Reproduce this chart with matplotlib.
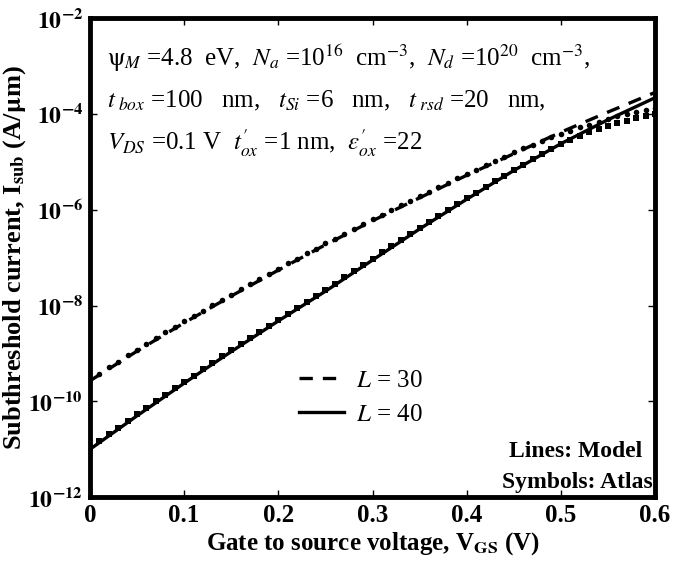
import numpy as np
import matplotlib
matplotlib.use('Agg')
import matplotlib.pyplot as plt
from matplotlib.ticker import FixedLocator, NullLocator

plt.rcParams['font.family'] = ['Liberation Serif', 'DejaVu Serif']
plt.rcParams['mathtext.fontset'] = 'stix'

# model curves (log10 of current, A/um)
v_model = [0.00, 0.05, 0.10, 0.15, 0.20, 0.25, 0.30, 0.35, 0.40, 0.45, 0.50, 0.55, 0.60]
log_model_l30 = [-9.57, -8.95, -8.36, -7.80, -7.26, -6.73, -6.23, -5.75, -5.28, -4.83, -4.38, -3.96, -3.55]
log_model_l40 = [-11.00, -10.30, -9.62, -8.96, -8.32, -7.70, -7.05, -6.40, -5.78, -5.18, -4.62, -4.12, -3.66]

# Atlas simulation points, sweep 0 .. 0.6 V in 0.01 V steps
v_atlas = np.round(np.arange(0, 0.605, 0.01), 2)
log_atlas_l30 = [-9.54, -9.42, -9.29, -9.17, -9.04, -8.92, -8.80, -8.68, -8.56, -8.45,
                 -8.33, -8.22, -8.11, -7.99, -7.88, -7.77, -7.66, -7.55, -7.45, -7.34,
                 -7.23, -7.12, -7.02, -6.91, -6.81, -6.70, -6.60, -6.50, -6.40, -6.30,
                 -6.20, -6.10, -6.01, -5.91, -5.82, -5.72, -5.63, -5.53, -5.44, -5.34,
                 -5.25, -5.16, -5.07, -4.98, -4.89, -4.80, -4.72, -4.64, -4.56, -4.49,
                 -4.42, -4.35, -4.28, -4.22, -4.16, -4.10, -4.05, -4.00, -3.96, -3.92,
                 -3.88]
log_atlas_l40 = [-10.97, -10.83, -10.69, -10.55, -10.41, -10.27, -10.13, -10.00, -9.86, -9.72,
                 -9.59, -9.46, -9.33, -9.20, -9.06, -8.93, -8.80, -8.67, -8.55, -8.42,
                 -8.29, -8.17, -8.04, -7.92, -7.79, -7.67, -7.54, -7.41, -7.28, -7.15,
                 -7.02, -6.89, -6.76, -6.63, -6.50, -6.37, -6.25, -6.13, -6.00, -5.88,
                 -5.76, -5.64, -5.52, -5.40, -5.29, -5.17, -5.06, -4.95, -4.84, -4.73,
                 -4.63, -4.54, -4.46, -4.38, -4.31, -4.25, -4.19, -4.14, -4.09, -4.05,
                 -4.01]

x_ticks = [0, 0.1, 0.2, 0.3, 0.4, 0.5, 0.6]
x_tick_labels = ['0', '0.1', '0.2', '0.3', '0.4', '0.5', '0.6']
y_exponents = [-12, -10, -8, -6, -4, -2]

fig = plt.figure(figsize=(6.81, 5.67), dpi=100)
ax = fig.add_axes([0.132, 0.123, 0.830, 0.845])

ax.plot(v_model, 10.0 ** np.array(log_model_l30), color='black', lw=2.4,
        linestyle=(0, (4, 3)), label=r'$L$ = 30')
ax.plot(v_model, 10.0 ** np.array(log_model_l40), color='black', lw=2.4,
        linestyle='-', label=r'$L$ = 40')
ax.plot(v_atlas, 10.0 ** np.array(log_atlas_l30), 'o', color='black', ms=4.0, mew=0)
ax.plot(v_atlas, 10.0 ** np.array(log_atlas_l40), 's', color='black', ms=3.8, mew=0)

ax.set_yscale('log')
ax.set_xlim(0, 0.6)
ax.set_ylim(1e-12, 1e-2)
ax.xaxis.set_major_locator(FixedLocator(x_ticks))
ax.set_xticklabels(x_tick_labels, fontsize=18, fontweight='bold')
ax.yaxis.set_major_locator(FixedLocator([10.0 ** e for e in y_exponents]))
ax.yaxis.set_minor_locator(NullLocator())
ax.set_yticklabels([r'$\mathbf{10^{%d}}$' % e for e in y_exponents], fontsize=17)
ax.tick_params(direction='in', length=5, width=1, top=True, right=True, pad=5)

for s in ax.spines.values():
    s.set_linewidth(3.5)

ax.set_xlabel(r'Gate to source voltage, V$_{\mathbf{GS}}$ (V)', fontsize=18,
              fontweight='bold', labelpad=2)
ax.set_ylabel(r'Subthreshold current, I$_{\mathbf{sub}}$ (A/$\mathbf{\mu}$m)', fontsize=19,
              fontweight='bold', labelpad=0)

params = [
    r'$\mathrm{\psi}_M$ =4.8  eV,  $N_a$ =10$^{16}$  cm$^{-3}$,  $N_d$ =10$^{20}$  cm$^{-3}$,',
    r'$t_{\ box}$ =100   nm,   $t_{Si}$ =6   nm,   $t_{\ rsd}$ =20   nm,',
    r"$V_{DS}$ =0.1 V  $t^{\prime}_{ox}$ =1 nm,  $\varepsilon^{\prime}_{ox}$ =22",
]
for i, line in enumerate(params):
    ax.text(0.030, 0.916 - i * 0.089, line, transform=ax.transAxes, fontsize=18,
            va='center', ha='left')

ax.text(0.978, 0.095, 'Lines: Model', transform=ax.transAxes, fontsize=17,
        fontweight='bold', ha='right', va='center')
ax.text(0.995, 0.030, 'Symbols: Atlas', transform=ax.transAxes, fontsize=17,
        fontweight='bold', ha='right', va='center')

ax.legend(loc='center left', bbox_to_anchor=(0.33, 0.208), frameon=False,
          fontsize=18, handlelength=1.8, labelspacing=0.45, handletextpad=0.5)

fig.savefig('out.png', dpi=100)
